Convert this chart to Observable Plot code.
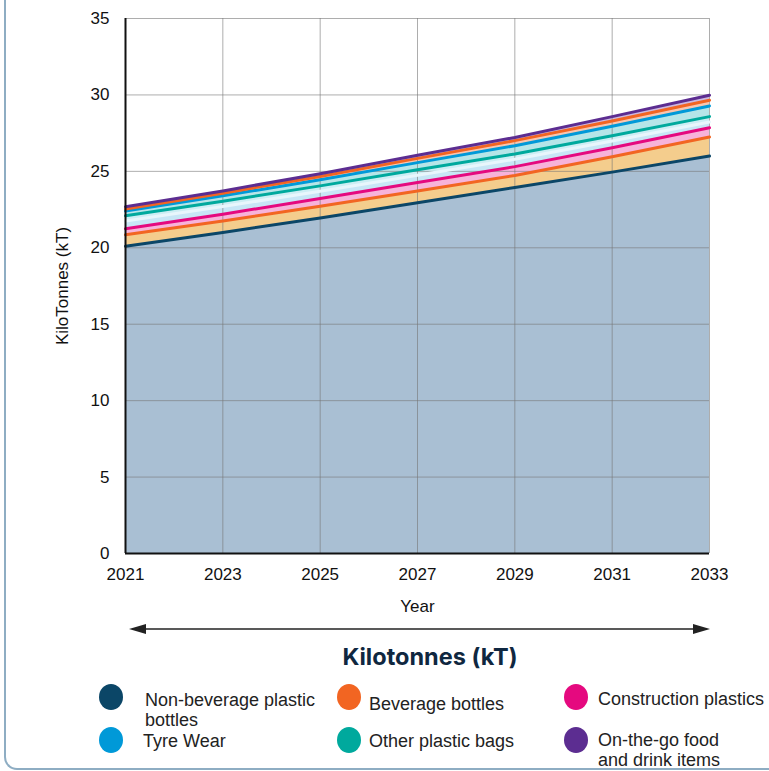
<!DOCTYPE html>
<html>
<head>
<meta charset="utf-8">
<script src="https://cdn.jsdelivr.net/npm/d3@7"></script>
<script src="https://cdn.jsdelivr.net/npm/@observablehq/plot@0.6"></script>
<style>
  html, body { margin: 0; padding: 0; background: #fff; }
  #page { position: relative; width: 769px; height: 771px; overflow: hidden; font-family: "Liberation Sans", Arial, sans-serif; }
  .card { position: absolute; left: 4px; top: -30px; width: 900px; height: 798px;
          border-left: 2px solid #8eadc3; border-bottom: 2px solid #8eadc3; border-bottom-left-radius: 13px; }
  #chart { position: absolute; left: 0; top: 0; }
  #arrow { position: absolute; left: 0; top: 618px; }
  #title { position: absolute; left: 0; width: 860px; top: 642px; text-align: center;
           font-family: Inter, "Noto Sans", sans-serif; font-weight: 700; font-size: 23.5px; color: #0f2740; }
  .item { position: absolute; font-size: 18px; line-height: 20px; color: #222; white-space: nowrap; }
  .dot { position: absolute; width: 24px; height: 26px; border-radius: 50%; }
</style>
</head>
<body>
<div id="page">
  <div class="card"></div>
  <div id="chart"></div>
  <svg id="arrow" width="769" height="22">
    <line x1="140" x2="698" y1="11" y2="11" stroke="#222" stroke-width="1.5"/>
    <polygon points="129,11 146,6 146,16" fill="#222"/>
    <polygon points="710,11 693,6 693,16" fill="#222"/>
  </svg>
  <div id="title">Kilotonnes (kT)</div>
  <div id="legend"></div>
</div>
<script>
// Years on the x axis and tick values on the y axis
const years = [2021, 2023, 2025, 2027, 2029, 2031, 2033];
const yTicks = [0, 5, 10, 15, 20, 25, 30, 35];

// Band thickness per year (kT), listed from the bottom of the stack upward
const nonBeverageBottles = [20.1, 21.0, 21.95, 22.95, 23.95, 24.95, 26.0];
const beverageBottles = [0.75, 0.75, 0.77, 0.77, 0.78, 1.0, 1.25];
const constructionPlastics = [0.4, 0.45, 0.5, 0.55, 0.58, 0.6, 0.6];
const otherSourcesA = [0.5, 0.5, 0.48, 0.48, 0.48, 0.43, 0.38];
const otherPlasticBags = [0.35, 0.35, 0.35, 0.35, 0.35, 0.35, 0.35];
const tyreWear = [0.3, 0.35, 0.4, 0.47, 0.54, 0.62, 0.7];
const otherSourcesB = [0.13, 0.17, 0.22, 0.28, 0.33, 0.35, 0.37];
const onTheGoItems = [0.15, 0.15, 0.18, 0.2, 0.21, 0.28, 0.33];

const seriesNames = ["Non-beverage plastic bottles", "Beverage bottles", "Construction plastics",
  "Other sources A", "Other plastic bags", "Tyre Wear", "Other sources B", "On-the-go food and drink items"];
const seriesValues = [nonBeverageBottles, beverageBottles, constructionPlastics, otherSourcesA,
  otherPlasticBags, tyreWear, otherSourcesB, onTheGoItems];
const areaColors = ["#a9bfd3", "#f4cd8d", "#f7b3da", "#c8e6f6", "#cdeef4", "#b6e5e8", "#f8c6b0", "#cdb9df"];
const lineColors = ["#0b4667", "#f26522", "#e5097f", "#e8f6fc", "#00a99d", "#0099d8", "#f26522", "#5c2d91"];

// Legend entries
const legendNames = ["Non-beverage plastic<br>bottles", "Beverage bottles", "Construction plastics",
  "Tyre Wear", "Other plastic bags", "On-the-go food<br>and drink items"];
const legendColors = ["#0b4667", "#f26522", "#e5097f", "#0099d8", "#00a99d", "#5c2d91"];

const rows = [];
seriesNames.forEach((name, s) => years.forEach((year, i) => rows.push({year, series: name, value: seriesValues[s][i]})));
const fillOf = Object.fromEntries(seriesNames.map((n, i) => [n, areaColors[i]]));
const lineOf = Object.fromEntries(seriesNames.map((n, i) => [n, lineColors[i]]));

const chart = Plot.plot({
  width: 769,
  height: 625,
  marginLeft: 125,
  marginRight: 60,
  marginTop: 18,
  marginBottom: 72,
  style: {fontFamily: "'Liberation Sans', Arial, sans-serif", fontSize: "17px", color: "#111", background: "transparent"},
  x: {domain: [2021, 2033]},
  y: {domain: [0, 35]},
  color: {type: "identity"},
  marks: [
    Plot.areaY(rows, Plot.stackY({x: "year", y: "value", z: "series", fill: d => fillOf[d.series], order: seriesNames})),
    Plot.gridY(yTicks, {stroke: "#777", strokeOpacity: 0.6}),
    Plot.gridX(years, {stroke: "#777", strokeOpacity: 0.6}),
    Plot.lineY(rows, Plot.stackY2({x: "year", y: "value", z: "series", stroke: d => lineOf[d.series], strokeWidth: 3, order: seriesNames})),
    Plot.ruleX([2021], {stroke: "#111", strokeWidth: 2}),
    Plot.ruleY([0], {stroke: "#111", strokeWidth: 2}),
    Plot.axisY({ticks: yTicks, tickSize: 0, tickPadding: 16, label: "KiloTonnes (kT)", labelAnchor: "center", labelOffset: 70, labelArrow: "none"}),
    Plot.axisX({ticks: years, tickFormat: "d", tickSize: 0, tickPadding: 14, label: "Year", labelAnchor: "center", labelOffset: 58, labelArrow: "none"})
  ]
});
document.getElementById("chart").appendChild(chart);

// Legend layout: circle centre and text position for each entry
const legendLayout = [
  {cx: 111, cy: 697, tx: 145, ty: 690},
  {cx: 349, cy: 697, tx: 369, ty: 694},
  {cx: 576, cy: 697, tx: 598, ty: 689},
  {cx: 111, cy: 740, tx: 143, ty: 731},
  {cx: 349, cy: 740, tx: 369, ty: 731},
  {cx: 576, cy: 740, tx: 598, ty: 730}
];
const legend = document.getElementById("legend");
legendNames.forEach((name, i) => {
  const p = legendLayout[i];
  const dot = document.createElement("div");
  dot.className = "dot";
  dot.style.left = (p.cx - 12) + "px";
  dot.style.top = (p.cy - 13) + "px";
  dot.style.background = legendColors[i];
  legend.appendChild(dot);
  const t = document.createElement("div");
  t.className = "item";
  t.style.left = p.tx + "px";
  t.style.top = p.ty + "px";
  t.innerHTML = name;
  legend.appendChild(t);
});
</script>
</body>
</html>
